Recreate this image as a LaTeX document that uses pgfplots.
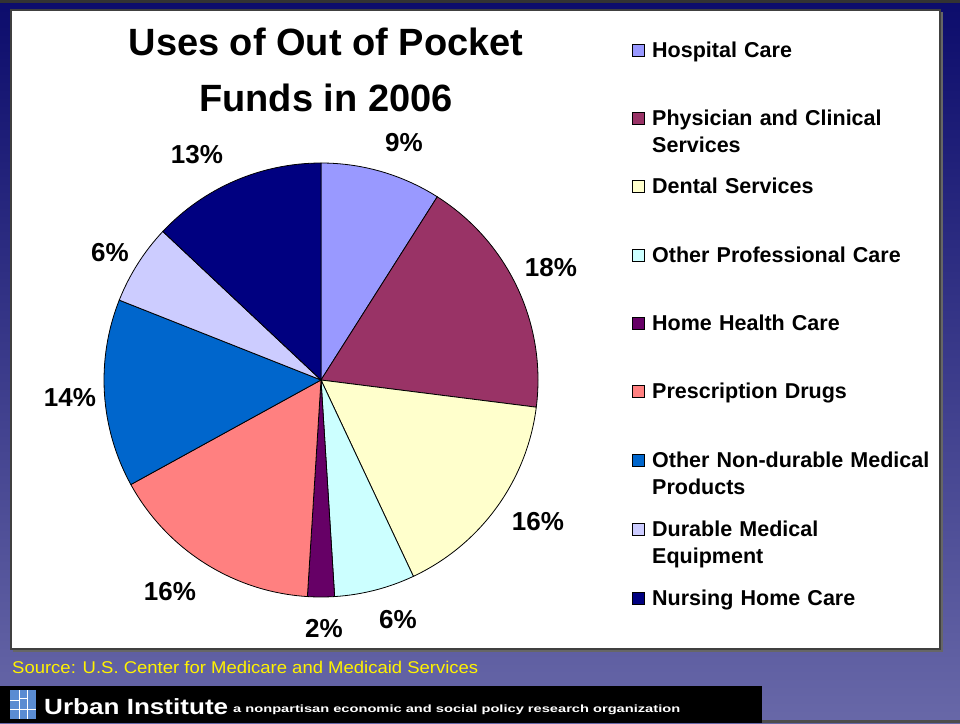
\documentclass[border=0pt]{standalone}
\usepackage{pgfplots}
\pgfplotsset{compat=1.18}
\usepackage{pgfplotstable}
\usepackage{graphicx}
\usepackage{fontspec}
\setmainfont{Liberation Sans}
\definecolor{c1}{HTML}{9999FF}
\definecolor{c2}{HTML}{993366}
\definecolor{c3}{HTML}{FFFFCC}
\definecolor{c4}{HTML}{CCFFFF}
\definecolor{c5}{HTML}{660066}
\definecolor{c6}{HTML}{FF8080}
\definecolor{c7}{HTML}{0066CC}
\definecolor{c8}{HTML}{CCCCFF}
\definecolor{c9}{HTML}{000080}
\definecolor{bgtop}{HTML}{0C0C6C}
\definecolor{bgbot}{HTML}{6868A8}
\definecolor{logoblue}{HTML}{5A8CD2}
\pgfplotstableread{
value col lx ly
9  c1 83 237
18 c2 230 112
16 c3 217 -142
6  c4 77 -240
2  c5 3 -249
16 c6 -151 -212
14 c7 -251 -18
6  c8 -211 127
13 c9 -124 225
}\piedata
\begin{document}
\begin{tikzpicture}
\begin{scope}[x=1pt,y=-1pt]
\useasboundingbox (0,0) rectangle (960,723);
\shade[top color=bgtop, bottom color=bgbot] (0,0) rectangle (960,723);
\fill[black!80] (0,0) rectangle (960,3);
\fill[black!70] (0,720) rectangle (960,723);
% white panel
\fill[black!60] (13,12) rectangle (943,652);
\fill[white,draw=black!75,line width=1.2pt] (11,10) rectangle (940,649);
\end{scope}
% pie
\begin{axis}[at={(321pt,-380pt)}, anchor=center, x=1pt, y=1pt,
  xmin=-220, xmax=220, ymin=-220, ymax=220, hide axis, clip=false]
\def\cum{0}
\pgfplotsforeachungrouped \i in {0,...,8}{%
  \pgfplotstablegetelem{\i}{value}\of\piedata \let\sv\pgfplotsretval
  \pgfplotstablegetelem{\i}{col}\of\piedata \let\slicecol\pgfplotsretval
  \pgfplotstablegetelem{\i}{lx}\of\piedata \let\slx\pgfplotsretval
  \pgfplotstablegetelem{\i}{ly}\of\piedata \let\sly\pgfplotsretval
  \pgfmathsetmacro\sa{90-3.6*\cum}%
  \pgfmathsetmacro\newcum{\cum+\sv}%
  \global\let\cum\newcum
  \pgfmathsetmacro\sb{90-3.6*\cum}%
  \edef\temp{\noexpand\fill[fill=\slicecol, draw=black, line width=0.8pt]
    (axis cs:0,0) -- (axis cs:{217*cos(\sa)},{217*sin(\sa)})
    arc[start angle=\sa, end angle=\sb, radius=217pt] -- cycle;
    \noexpand\node[font=\noexpand\fontsize{26}{26}\noexpand\selectfont\noexpand\bfseries]
    at (axis cs:\slx,\sly) {\sv\noexpand\%};}%
  \temp
}
\end{axis}
\begin{scope}[x=1pt,y=-1pt]
% title
\node[align=center, font=\fontsize{38}{56}\selectfont\bfseries] at (326,70)
  {Uses of Out of Pocket\\Funds in 2006};
% legend
\begin{scope}[every node/.style={anchor=north west, align=left,
   font=\fontsize{21.5}{27}\selectfont\bfseries, inner sep=0pt, text width=300pt}]
\foreach \y/\c/\t in {
  50/c1/{Hospital Care},
  118/c2/{Physician and Clinical\\Services},
  186/c3/{Dental Services},
  255/c4/{Other Professional Care},
  323/c5/{Home Health Care},
  391/c6/{Prescription Drugs},
  460/c7/{Other Non-durable Medical\\Products},
  529/c8/{Durable Medical\\Equipment},
  598/c9/{Nursing Home Care}}{
  \fill[fill=\c, draw=black, line width=0.7pt] (632,\y-6) rectangle (644,\y+6);
  \node at (652,\y-8) {\t};
}
\end{scope}
% source
\node[anchor=west, inner sep=0pt, text=yellow] at (12,667)
  {\resizebox{466pt}{\height}{\fontsize{17}{17}\selectfont Source: U.S. Center for Medicare and Medicaid Services}};
% footer bar
\fill[black] (0,686) rectangle (762,723);
\fill[logoblue] (10,690) rectangle (36,719);
\draw[white, line width=1pt] (19,690) -- (19,719) (27,690) -- (27,719)
  (10,700) -- (19,700) (10,709) -- (36,709) (19,698) -- (27,698);
\node[anchor=west, inner sep=0pt, text=white] at (44,707)
  {\resizebox{184pt}{\height}{\fontsize{22}{22}\selectfont\bfseries Urban Institute}};
\node[anchor=west, inner sep=0pt, text=white] at (233,710)
  {\resizebox{447pt}{\height}{\fontsize{10.5}{11}\selectfont\bfseries a nonpartisan economic and social policy research organization}};
\end{scope}
\end{tikzpicture}
\end{document}
